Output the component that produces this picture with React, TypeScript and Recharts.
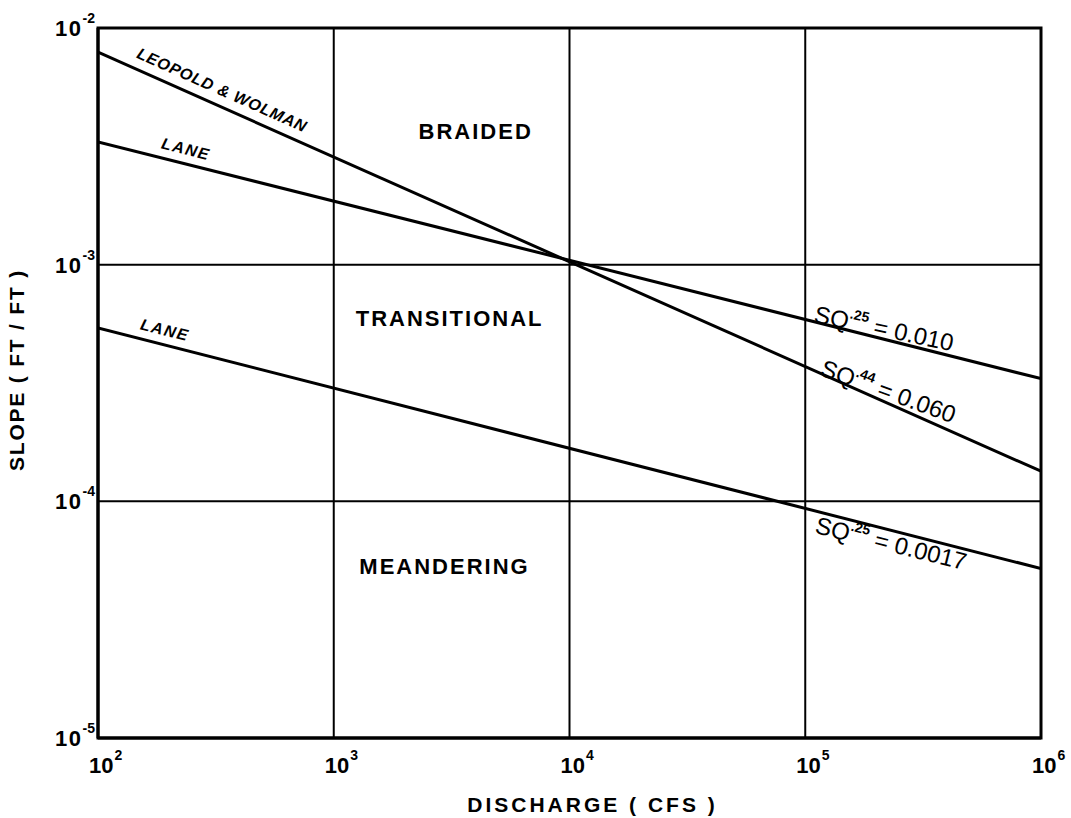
import {
  LineChart, Line, XAxis, YAxis, CartesianGrid,
  ReferenceDot, ReferenceArea, Label
} from 'recharts';

// discharge (cfs) at the two ends of each straight line on log-log paper
const DISCHARGE = [1e2, 1e6];
// slope (ft/ft) at those ends
const LEOPOLD_WOLMAN = [0.0079, 0.000134];
const LANE_UPPER = [0.0033, 0.00033];
const LANE_LOWER = [0.00054, 0.000052];

const X_TICKS = [1e2, 1e3, 1e4, 1e5, 1e6];
const X_TICK_EXP = ['2', '3', '4', '5', '6'];
const Y_TICKS = [1e-5, 1e-4, 1e-3, 1e-2];
const Y_TICK_EXP = ['-5', '-4', '-3', '-2'];

const REGION_NAMES = ['BRAIDED', 'TRANSITIONAL', 'MEANDERING'];
const CURVE_NAMES = ['LEOPOLD & WOLMAN', 'LANE', 'LANE'];
const EQ_EXP = ['.25', '.44', '.25'];
const EQ_CONST = ['0.010', '0.060', '0.0017'];

const rows = DISCHARGE.map((q, i) => ({
  q,
  lw: LEOPOLD_WOLMAN[i],
  lu: LANE_UPPER[i],
  ll: LANE_LOWER[i],
}));

const FONT = '"Liberation Sans", Arial, Helvetica, sans-serif';

// anchor points (data coords) for the annotations
const regionPos = [
  { q: 4000, s: 0.00364 },
  { q: 3100, s: 0.00059 },
  { q: 2950, s: 0.0000528 },
];
const curvePos = [
  { q: 336, s: 0.00547, rot: 24 },
  { q: 236, s: 0.00308, rot: 14 },
  { q: 192, s: 0.00053, rot: 14 },
];
const eqPos = [
  { q: 107900, s: 0.000573, rot: 12 },
  { q: 114300, s: 0.000342, rot: 20 },
  { q: 108900, s: 0.0000736, rot: 14 },
];

const XTick = ({ x, y, payload }: any) => {
  const i = X_TICKS.indexOf(payload.value);
  const exp = i >= 0 ? X_TICK_EXP[i] : String(Math.round(Math.log10(payload.value)));
  return (
    <text x={x - 9} y={y + 35} fontFamily={FONT} fontWeight="bold" fontSize={22} fill="#000">
      <tspan>10</tspan>
      <tspan dy={-13} dx={1} fontSize={14}>{exp}</tspan>
    </text>
  );
};

const YTick = ({ x, y, payload }: any) => {
  const i = Y_TICKS.indexOf(payload.value);
  const exp = i >= 0 ? Y_TICK_EXP[i] : String(Math.round(Math.log10(payload.value)));
  return (
    <text x={x - 3} y={y + 8} textAnchor="end" fontFamily={FONT} fontWeight="bold" fontSize={22} fill="#000">
      <tspan letterSpacing={1.5}>10</tspan>
      <tspan dy={-13} fontSize={14}>{exp}</tspan>
    </text>
  );
};

export default function App() {
  return (
    <div style={{ position: 'absolute', left: 0, top: 0, width: 1071, height: 818, background: '#fff' }}>
      <LineChart width={1071} height={818} data={rows} margin={{ top: 28, right: 30, bottom: 0, left: 0 }}>
        <CartesianGrid stroke="#000" strokeWidth={2} />
        <XAxis
          dataKey="q"
          type="number"
          scale="log"
          domain={[1e2, 1e6]}
          ticks={X_TICKS}
          interval={0}
          allowDataOverflow
          height={80}
          tickLine={false}
          tickSize={0}
          tickMargin={0}
          axisLine={{ stroke: '#000', strokeWidth: 3 }}
          tick={XTick}
        >
          <Label
            content={(p: any) => (
              <text
                x={p.viewBox.x + p.viewBox.width / 2 + 23}
                y={p.viewBox.y + 74}
                textAnchor="middle"
                fontFamily={FONT}
                fontWeight="bold"
                fontSize={21}
                letterSpacing={3}
                fill="#000"
              >
                DISCHARGE ( CFS )
              </text>
            )}
          />
        </XAxis>
        <YAxis
          type="number"
          scale="log"
          domain={[1e-5, 1e-2]}
          ticks={Y_TICKS}
          interval={0}
          allowDataOverflow
          width={98}
          tickLine={false}
          tickSize={0}
          tickMargin={0}
          axisLine={{ stroke: '#000', strokeWidth: 3 }}
          tick={YTick}
        >
          <Label
            content={(p: any) => {
              const cx = 16;
              const cy = p.viewBox.y + p.viewBox.height / 2 - 13;
              return (
                <text
                  x={cx}
                  y={cy}
                  transform={`rotate(-90 ${cx} ${cy})`}
                  textAnchor="middle"
                  dominantBaseline="central"
                  fontFamily={FONT}
                  fontWeight="bold"
                  fontSize={21}
                  letterSpacing={1.8}
                  fill="#000"
                >
                  SLOPE ( FT / FT )
                </text>
              );
            }}
          />
        </YAxis>
        <ReferenceArea x1={1e2} x2={1e6} y1={1e-5} y2={1e-2} fill="none" stroke="#000" strokeWidth={3} ifOverflow="visible" />

        <Line type="linear" dataKey="lw" stroke="#000" strokeWidth={3} dot={false} isAnimationActive={false} />
        <Line type="linear" dataKey="lu" stroke="#000" strokeWidth={3} dot={false} isAnimationActive={false} />
        <Line type="linear" dataKey="ll" stroke="#000" strokeWidth={3} dot={false} isAnimationActive={false} />

        {REGION_NAMES.map((name, i) => (
          <ReferenceDot
            key={name}
            x={regionPos[i].q}
            y={regionPos[i].s}
            r={0}
            fill="none"
            stroke="none"
            label={(p: any) => (
              <text
                x={p.viewBox.x}
                y={p.viewBox.y}
                textAnchor="middle"
                dominantBaseline="central"
                fontFamily={FONT}
                fontWeight="bold"
                fontSize={22}
                letterSpacing={2}
                fill="#000"
              >
                {name}
              </text>
            )}
          />
        ))}

        {CURVE_NAMES.map((name, i) => (
          <ReferenceDot
            key={'c' + i}
            x={curvePos[i].q}
            y={curvePos[i].s}
            r={0}
            fill="none"
            stroke="none"
            label={(p: any) => (
              <text
                x={p.viewBox.x}
                y={p.viewBox.y}
                transform={`rotate(${curvePos[i].rot} ${p.viewBox.x} ${p.viewBox.y})`}
                textAnchor="middle"
                dominantBaseline="central"
                fontFamily={FONT}
                fontWeight="bold"
                fontStyle="italic"
                fontSize={16}
                letterSpacing={i === 0 ? 0.8 : 1.5}
                fill="#000"
              >
                {name}
              </text>
            )}
          />
        ))}

        {EQ_CONST.map((c, i) => (
          <ReferenceDot
            key={'e' + i}
            x={eqPos[i].q}
            y={eqPos[i].s}
            r={0}
            fill="none"
            stroke="none"
            label={(p: any) => (
              <text
                x={p.viewBox.x}
                y={p.viewBox.y}
                transform={`rotate(${eqPos[i].rot} ${p.viewBox.x} ${p.viewBox.y})`}
                fontFamily={FONT}
                fontSize={24}
                fill="#000"
              >
                <tspan>SQ</tspan>
                <tspan dy={-11} fontSize={14} fontWeight="bold">{EQ_EXP[i]}</tspan>
                <tspan dy={11}> = {c}</tspan>
              </text>
            )}
          />
        ))}
      </LineChart>
    </div>
  );
}
